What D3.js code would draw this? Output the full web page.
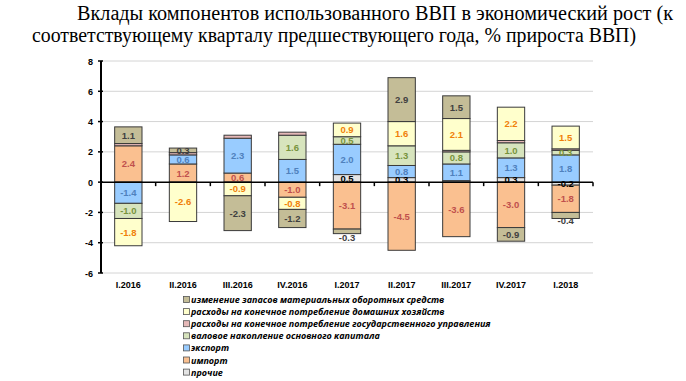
<!DOCTYPE html>
<html>
<head>
<meta charset="utf-8">
<script src="https://cdn.jsdelivr.net/npm/d3@7"></script>
<style>
  body { margin: 0; background: #fff; }
  .tick-label { font-family: "Liberation Sans", Arial, sans-serif; font-size: 9px; font-weight: bold; fill: #000; }
  .val { font-family: "Liberation Sans", Arial, sans-serif; font-size: 9.5px; font-weight: bold; }
  .legend text { font-family: "Open Sans", "Noto Sans", sans-serif; font-size: 9px; font-weight: bold; font-style: italic; fill: #000; }
</style>
</head>
<body>
<svg id="chart" width="686" height="381"></svg>
<script>
// quarters
var categories = ["I.2016", "II.2016", "III.2016", "IV.2016", "I.2017", "II.2017", "III.2017", "IV.2017", "I.2018"];

// contributions, p.p. of GDP growth
var prochie    = [0,    0,    0,    0,    0.5,  0.3,  0.1,  0.3,  -0.2];
var importVals = [2.4,  1.2,  0.6,  -1.0, -3.1, -4.5, -3.6, -3.0, -1.8];
var exportVals = [-1.4, 0.6,  2.3,  1.5,  2.0,  0.8,  1.1,  1.3,  1.8];
var gfcf       = [-1.0, 0,    0,    1.6,  0.5,  1.3,  0.8,  1.0,  0.3];
var govCons    = [0.15, 0.15, 0.2,  0.2,  0,    0,    0.1,  0.15, 0.1];
var hhCons     = [-1.8, -2.6, -0.9, -0.8, 0.9,  1.6,  2.1,  2.2,  1.5];
var inventory  = [1.1,  0.3,  -2.3, -1.2, -0.3, 2.9,  1.5,  -0.9, -0.4];

var yTicks = [-6, -4, -2, 0, 2, 4, 6, 8];

// series, in stacking order (nearest the axis first)
var series = [
    {key: "prochie",   name: "прочие", values: prochie, fill: "#E4E4E4", text: "#000000", label: true},
    {key: "import",    name: "импорт", values: importVals, fill: "#FAC090", text: "#C0504D", label: true},
    {key: "export",    name: "экспорт", values: exportVals, fill: "#99CCFF", text: "#4F81BD", label: true},
    {key: "gfcf",      name: "валовое накопление основного капитала", values: gfcf, fill: "#D7E4BD", text: "#77933C", label: true},
    {key: "gov",       name: "расходы на конечное потребление государственного управления", values: govCons, fill: "#E6B9B8", text: "#C0504D", label: false},
    {key: "hh",        name: "расходы на конечное потребление домашних хозяйств", values: hhCons, fill: "#FFFFCC", text: "#F07F09", label: true},
    {key: "inventory", name: "изменение запасов материальных оборотных средств", values: inventory, fill: "#C4BD97", text: "#404040", label: true}
];

var svg = d3.select("#chart");
var margin = {left: 101, right: 93, top: 61, bottom: 108};
var width = 686, height = 381;

// title (two lines, like the original slide)
var title = svg.append("g")
    .attr("font-family", "'Liberation Serif', 'DejaVu Serif', serif")
    .attr("font-size", 20)
    .attr("fill", "#000");
title.append("text").attr("x", 77).attr("y", 20)
    .attr("textLength", 596).attr("lengthAdjust", "spacingAndGlyphs")
    .text("Вклады компонентов использованного ВВП в экономический рост (к");
title.append("text").attr("x", 32).attr("y", 42)
    .attr("textLength", 604).attr("lengthAdjust", "spacingAndGlyphs")
    .text("соответствующему кварталу предшествующего года, % прироста ВВП)");

var x = d3.scaleBand()
    .domain(categories)
    .range([margin.left, width - margin.right])
    .paddingInner(0.5)
    .paddingOuter(0.25);

var y = d3.scaleLinear()
    .domain([-6, 8])
    .range([height - margin.bottom, margin.top]);

// grid
svg.append("g").selectAll("line")
    .data(yTicks.filter(function(d) { return d !== 0; }))
    .enter().append("line")
    .attr("x1", margin.left).attr("x2", width - margin.right)
    .attr("y1", function(d) { return y(d); }).attr("y2", function(d) { return y(d); })
    .attr("stroke", "#D4D4D4").attr("stroke-width", 1);

// build table for the stack
var table = categories.map(function(c, i) {
    var row = {cat: c};
    series.forEach(function(s) { row[s.key] = s.values[i]; });
    return row;
});

var stack = d3.stack()
    .keys(series.map(function(s) { return s.key; }))
    .offset(d3.stackOffsetDiverging);
var layers = stack(table);

var bars = svg.append("g");
layers.forEach(function(layer, li) {
    var s = series[li];
    bars.selectAll(".seg-" + s.key)
        .data(layer.filter(function(d) { return d[1] - d[0] !== 0; }))
        .enter().append("rect")
        .attr("x", function(d) { return x(d.data.cat); })
        .attr("width", x.bandwidth())
        .attr("y", function(d) { return y(Math.max(d[0], d[1])); })
        .attr("height", function(d) { return Math.abs(y(d[0]) - y(d[1])); })
        .attr("fill", s.fill)
        .attr("stroke", "#3a3a3a")
        .attr("stroke-width", 1);
});

// y axis
var yAxis = svg.append("g");
yAxis.append("line")
    .attr("x1", margin.left).attr("x2", margin.left)
    .attr("y1", y(8)).attr("y2", y(-6))
    .attr("stroke", "#000").attr("stroke-width", 2);
yAxis.selectAll(".tk").data(yTicks).enter().append("line")
    .attr("x1", margin.left - 3).attr("x2", margin.left + 2)
    .attr("y1", function(d) { return y(d); }).attr("y2", function(d) { return y(d); })
    .attr("stroke", "#000").attr("stroke-width", 1.5);
yAxis.selectAll("text").data(yTicks).enter().append("text")
    .attr("class", "tick-label")
    .attr("x", margin.left - 8)
    .attr("y", function(d) { return y(d) + 3.5; })
    .attr("text-anchor", "end")
    .text(function(d) { return d; });

// zero line with category separators
var xAxis = svg.append("g");
xAxis.append("line")
    .attr("x1", margin.left).attr("x2", width - margin.right)
    .attr("y1", y(0)).attr("y2", y(0))
    .attr("stroke", "#000").attr("stroke-width", 1.5);
xAxis.selectAll(".sep").data(d3.range(1, categories.length + 1)).enter().append("line")
    .attr("x1", function(i) { return margin.left + i * x.step(); })
    .attr("x2", function(i) { return margin.left + i * x.step(); })
    .attr("y1", y(0)).attr("y2", y(0) + 4)
    .attr("stroke", "#000").attr("stroke-width", 1.5);
svg.append("g").selectAll("text").data(categories).enter().append("text")
    .attr("class", "tick-label")
    .attr("x", function(d) { return x(d) + x.bandwidth() / 2; })
    .attr("y", y(-6) + 15)
    .attr("text-anchor", "middle")
    .text(function(d) { return d; });

// value labels
var labels = svg.append("g");
layers.forEach(function(layer, li) {
    var s = series[li];
    if (!s.label) return;
    layer.forEach(function(d, i) {
        var v = s.values[i];
        if (Math.abs(v) < 0.2) return;
        var ym = y((d[0] + d[1]) / 2);
        // small outermost negative piece: label goes below the bar
        if (v < 0 && li === series.length - 1 && Math.abs(v) < 0.5) {
            ym = y(d[1]) + 8;
        }
        labels.append("text")
            .attr("class", "val")
            .attr("x", x(d.data.cat) + x.bandwidth() / 2)
            .attr("y", ym + 3.5)
            .attr("text-anchor", "middle")
            .attr("fill", s.text)
            .text(v.toFixed(1));
    });
});

// legend
var legendOrder = series.slice().reverse();
var legend = svg.append("g").attr("class", "legend");
legendOrder.forEach(function(s, i) {
    var ly = 300 + i * 12.1;
    legend.append("rect")
        .attr("x", 183.5).attr("y", ly - 3.5)
        .attr("width", 6).attr("height", 6)
        .attr("fill", s.fill).attr("stroke", "#555").attr("stroke-width", 0.8);
    legend.append("text")
        .attr("x", 191).attr("y", ly + 3)
        .text(s.name);
});
</script>
</body>
</html>
